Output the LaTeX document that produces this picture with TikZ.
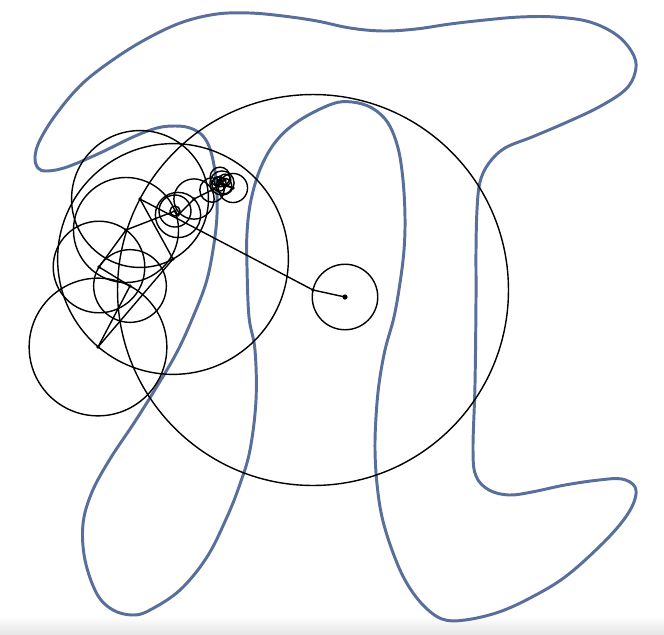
\documentclass[tikz,border=0pt]{standalone}
\usetikzlibrary{calc}
\definecolor{piBlue}{RGB}{88,110,155}

\begin{document}
\begin{tikzpicture}[x=0.025cm,y=-0.025cm,
    pishape/.style={draw=piBlue,line width=2.1pt,line join=round},
    epi/.style={draw=black,line width=1pt},
    joint/.style={fill=black}]
    % Frame and bottom fade
    \useasboundingbox (0,0) rectangle (664,634);
    \fill[white] (0,0) rectangle (664,634);
    \shade[top color=white,bottom color=black!10] (0,616) rectangle (664,634);
    % Traced pi curve
    \draw[pishape] plot[smooth cycle,tension=0.6] coordinates {
        (35,157) (40,140) (57,113) (83,83) (117,57) (150,37) (183,22) (217,14)
        (250,13) (283,16) (317,21) (350,28) (383,31) (416,29) (450,24)
        (485,20) (520,17) (555,17) (590,22) (618,36) (634,56) (635,73) (625,90)
        (599,107) (565,123) (532,137) (505,148) (489,163) (480,182) (477,210)
        (476,250) (476,300) (475,384) (473,450) (476,476) (489,490) (509,495)
        (532,492) (565,485) (599,480) (622,479) (635,487) (634,502) (622,522)
        (599,547) (565,577) (532,597) (499,612) (465,620) (442,619) (422,604)
        (405,580) (392,550) (382,517) (377,484) (375,450) (376,417) (379,384)
        (385,350) (394,317) (400,283) (404,250) (405,217) (403,180) (398,148)
        (388,123) (372,108) (352,102) (332,104) (300,120) (277,140) (261,167)
        (251,200) (247,233) (247,267) (249,317) (255,350) (256,400) (250,450)
        (240,484) (227,517) (207,557) (180,590) (150,610) (133,615) (113,610)
        (97,594) (85,560) (83,524) (92,492) (110,459) (134,423) (156,388)
        (177,352) (193,317) (206,283) (213,250) (217,215) (216,180) (211,152)
        (203,136) (190,128) (175,126) (157,128) (133,137) (100,153) (67,167)
        (47,171) (38,168)};
    % Epicycle joints
    \coordinate (p0) at (345,297);
    \coordinate (p1) at (313,290);
    \coordinate (p2) at (140,199);
    \coordinate (p3) at (173,259);
    \coordinate (p4) at (98,347);
    \coordinate (p5) at (130,286);
    \coordinate (p6) at (99,267);
    \coordinate (p7) at (126,230);
    \coordinate (p8) at (175,211);
    \coordinate (p9) at (178,215);
    \coordinate (p10) at (194,199);
    \coordinate (p11) at (212,190);
    \coordinate (p12) at (222,183);
    \coordinate (p13) at (233,188);
    \coordinate (p14) at (219,184);
    \coordinate (p15) at (225,180);
    \coordinate (p16) at (220,177);
    \coordinate (p17) at (224,186);
    \coordinate (p18) at (218,181);
    \coordinate (p19) at (221,184);
    % Circles and arms
    \foreach \i [evaluate=\i as \j using int(\i+1)] in {0,...,18} {
        \draw[epi] let \p1=(p\i), \p2=(p\j), \n1={veclen(\x2-\x1,\y2-\y1)}
            in (p\i) circle[radius=\n1];
        \draw[epi] (p\i) -- (p\j);
        \fill[joint] (p\i) circle[radius=1.8];
    }
    \draw[epi] (p8) circle[radius=16];
    \fill[joint] (p0) circle[radius=2.6];
\end{tikzpicture}
\end{document}
